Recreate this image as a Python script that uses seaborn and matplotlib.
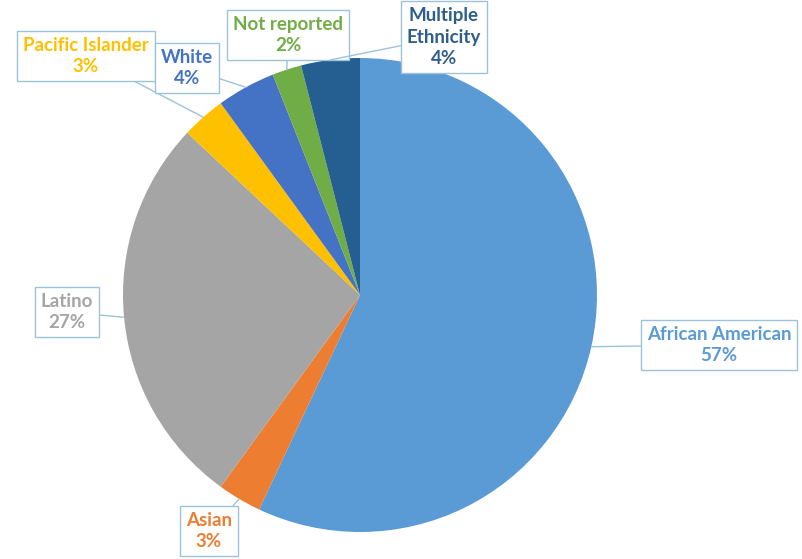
import numpy as np
import matplotlib
matplotlib.use("Agg")
import matplotlib.pyplot as plt
import seaborn as sns

# data
groups = ["African American", "Asian", "Latino", "Pacific Islander",
          "White", "Not reported", "Multiple Ethnicity"]
shares = [57, 3, 27, 3, 4, 2, 4]
display_names = ["African American", "Asian", "Latino", "Pacific Islander",
                 "White", "Not reported", "Multiple\nEthnicity"]

colors = ["#5B9BD5", "#ED7D31", "#A5A5A5", "#FFC000",
          "#4472C4", "#70AD47", "#255E91"]
text_colors = ["#5B9BD5", "#ED7D31", "#A5A5A5", "#FFC000",
               "#4472C4", "#70AD47", "#2E5F8A"]

# label box centres in image pixels (x from left, y from top)
label_pos = [(719, 345), (209, 531), (67, 312), (86, 56),
             (187, 68), (288, 35), (444, 37)]

W, H = 803, 559
CX, CY, R = 360, H - 295, 237

sns.set_theme(style="white")
plt.rcParams['font.family'] = ['Lato', 'DejaVu Sans']

fig = plt.figure(figsize=(W / 100, H / 100), dpi=100)
ax = fig.add_axes([0, 0, 1, 1])

wedges, _ = ax.pie(shares, colors=colors, startangle=90, counterclock=False,
                   center=(CX, CY), radius=R, frame=True,
                   wedgeprops=dict(linewidth=0))
ax.set_xlim(0, W)
ax.set_ylim(0, H)
ax.set_aspect('equal')
ax.axis('off')

for w, name, v, tc, (lx, ly) in zip(wedges, display_names, shares, text_colors, label_pos):
    mid = np.deg2rad((w.theta1 + w.theta2) / 2)
    px = CX + R * np.cos(mid)
    py = CY + R * np.sin(mid)
    ax.annotate(f"{name}\n{v}%", xy=(px, py), xytext=(lx, H - ly),
                ha='center', va='center', fontsize=13.5, fontweight='bold',
                color=tc, linespacing=1.35,
                bbox=dict(boxstyle="square,pad=0.3", fc="white",
                          ec="#9CC3DA", lw=1),
                arrowprops=dict(arrowstyle="-", color="#9CC3DA", lw=1,
                                shrinkA=0, shrinkB=0))

fig.savefig("out.png", dpi=100)
